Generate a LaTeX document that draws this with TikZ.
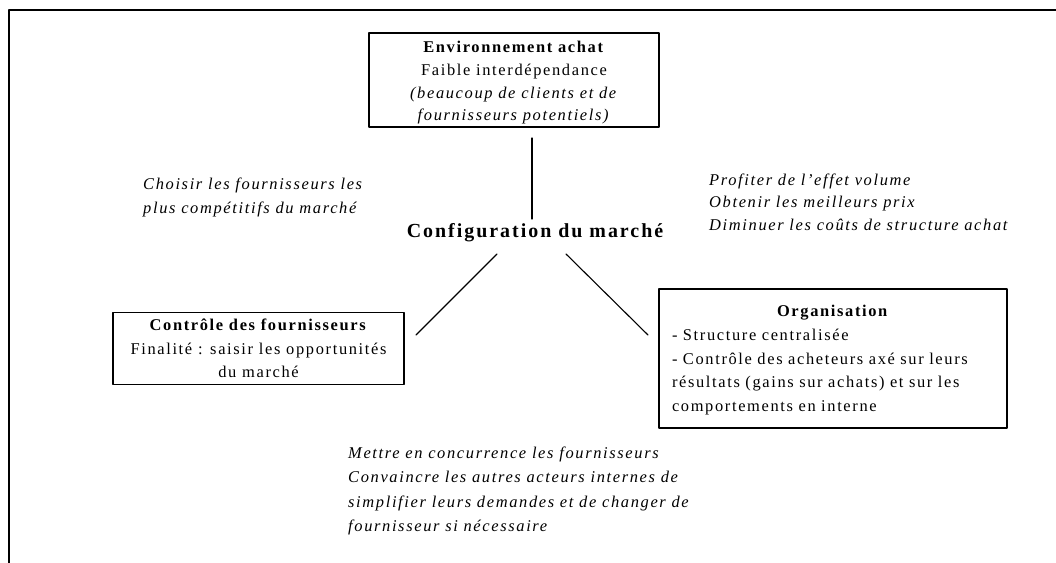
\documentclass[tikz,border=0pt]{standalone}
\usepackage{fontspec}
\setmainfont{Liberation Serif}[LetterSpace=10]
\usetikzlibrary{positioning}

\tikzset{
  boite/.style={draw, line width=1.3bp, inner sep=4bp, align=center},
  texte/.style={inner sep=0pt, font=\fontsize{16.5}{23.5}\selectfont},
  trait/.style={line width=1.1bp},
}

\begin{document}
\begin{tikzpicture}[line cap=round,line join=round,x=1bp,y=-1bp]
\useasboundingbox (0,0) rectangle (1056,563);
% cadre
\draw [line width=1.6bp] (1056,10)-- (9,10)-- (9,563);
% boites
\node[boite, texte, font=\fontsize{16.5}{22.7}\selectfont, minimum width=290bp, minimum height=94bp] (env) at (514,80)
  {\rule{0pt}{17bp}\textbf{Environnement achat}\\Faible interdépendance\\
   \textit{(beaucoup de clients et de}\\\textit{fournisseurs potentiels)}};
\node[boite, texte, minimum width=291bp, minimum height=72bp] (ctrl) at (258.5,348.5)
  {\textbf{Contrôle des fournisseurs}\\Finalité : saisir les opportunités\\du marché};
\node[boite, texte, font=\fontsize{16.5}{23.8}\selectfont, inner xsep=13bp, minimum width=348bp, minimum height=139bp, text width=322bp, align=left] (orga) at (833,358.5)
  {\rule{0pt}{15bp}{\centering\textbf{Organisation}\par}- Structure centralisée\\
   - Contrôle des acheteurs axé sur leurs\\résultats (gains sur achats) et sur les\\comportements en interne};
% centre
\node[texte, font=\fontsize{20}{24}\selectfont\bfseries] (conf) at (535,233) {Configuration du marché};
% commentaires
\node[texte, anchor=west, align=left, font=\fontsize{16.5}{24}\selectfont\itshape] (choix) at (143,197.5)
  {Choisir les fournisseurs les\\plus compétitifs du marché};
\node[texte, anchor=west, align=left, font=\fontsize{16.5}{22.5}\selectfont\itshape] (prix) at (709,202)
  {Profiter de l’effet volume\\Obtenir les meilleurs prix\\Diminuer les coûts de structure achat};
\node[texte, anchor=west, align=left, font=\fontsize{16.5}{24.7}\selectfont\itshape] (concur) at (348,491)
  {Mettre en concurrence les fournisseurs\\Convaincre les autres acteurs internes de\\
   simplifier leurs demandes et de changer de\\fournisseur si nécessaire};
% liens
\coordinate (h1) at (532,138);
\coordinate (h2) at (532,219);
\coordinate (g1) at (497,254);
\coordinate (g2) at (416,335);
\coordinate (d1) at (566,254);
\coordinate (d2) at (648,335);
\draw [trait] (h1)-- (h2);
\draw [trait] (g1)-- (g2);
\draw [trait] (d1)-- (d2);
\end{tikzpicture}
\end{document}
